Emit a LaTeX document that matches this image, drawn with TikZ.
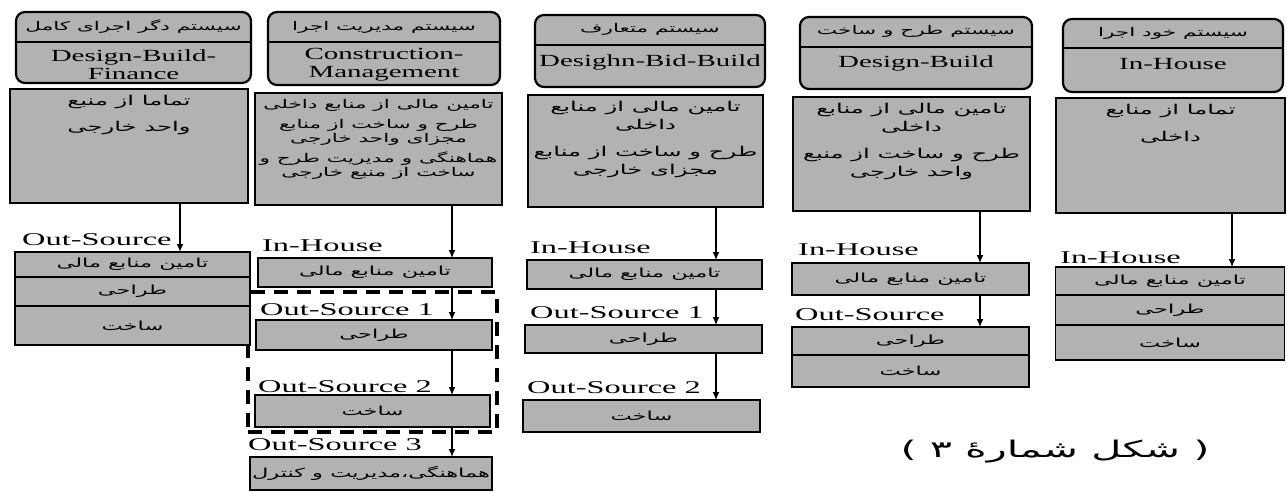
\documentclass[tikz,border=0pt]{standalone}
\usepackage{fontspec}
\setmainfont{Liberation Serif}
\newfontfamily\lblfont[FakeStretch=1.8]{Liberation Serif}
\newfontfamily\engfont[FakeStretch=1.7]{Liberation Serif}
\newfontfamily\farsi[Script=Arabic,FakeStretch=1.8]{DejaVu Sans}
\TeXXeTstate=1
\newcommand{\fa}[1]{{\farsi\beginR #1\endR}}
\usepackage{tikz}
\usetikzlibrary{positioning, arrows.meta}

\begin{document}
\begin{tikzpicture}[x=1pt, y=-1pt,
    hdr/.style={draw, line width=2.2pt, rounded corners=9pt, fill=black!30, inner sep=0pt, outer sep=0pt},
    hdrfa/.style={inner sep=0pt, font=\fontsize{12}{13}\selectfont},
    descbox/.style={draw, line width=1.8pt, fill=black!30, inner sep=0pt, outer sep=0pt},
    cell/.style={draw, line width=1.6pt, fill=black!30, inner sep=0pt, outer sep=0pt, font=\fontsize{12.5}{13}\selectfont},
    desctext/.style={inner sep=0pt, align=center, font=\fontsize{13.5}{14}\selectfont},
    lbl/.style={anchor=west, inner sep=0pt, font=\lblfont\fontsize{18}{20}\selectfont},
    eng/.style={inner sep=0pt, align=center, font=\engfont\fontsize{17}{18}\selectfont},
    arr/.style={-{Latex[length=8pt,width=7pt]}, line width=1.3pt},
    grp/.style={draw, dash pattern=on 14pt off 9pt, line width=3.5pt, inner sep=0pt, outer sep=0pt}]

            \useasboundingbox (0,0) rectangle (1287,491);

            % headers
            \node[hdr, minimum width=235pt, minimum height=71pt] (hdr1) at (133.5,47.5) {};
            \draw[line width=1.6pt] (hdr1.west |- 0,42) -- (hdr1.east |- 0,42);
            \node[hdrfa] (hdr1fa) at (133.5,27) {\fa{سیستم دگر اجرای کامل}};
            \node[eng] (hdr1en) at (133.5,65) {Design-Build-\\Finance};

            \node[hdr, minimum width=232pt, minimum height=73pt] (hdr2) at (384,48.5) {};
            \draw[line width=1.6pt] (hdr2.west |- 0,42) -- (hdr2.east |- 0,42);
            \node[hdrfa] (hdr2fa) at (384,27) {\fa{سیستم مدیریت اجرا}};
            \node[eng] (hdr2en) at (384,65) {Construction-\\Management};

            \node[hdr, minimum width=230pt, minimum height=72pt] (hdr3) at (650,51) {};
            \draw[line width=1.2pt] (hdr3.west |- 0,45) -- (hdr3.east |- 0,45);
            \node[hdrfa] (hdr3fa) at (650,29) {\fa{سیستم متعارف}};
            \node[eng] (hdr3en) at (650,62) {Desighn-Bid-Build};

            \node[hdr, minimum width=232pt, minimum height=72pt] (hdr4) at (916,53) {};
            \draw[line width=1.2pt] (hdr4.west |- 0,47) -- (hdr4.east |- 0,47);
            \node[hdrfa] (hdr4fa) at (916,31) {\fa{سیستم طرح و ساخت}};
            \node[eng] (hdr4en) at (916,63) {Design-Build};

            \node[hdr, minimum width=220pt, minimum height=73pt] (hdr5) at (1173,55.5) {};
            \draw[line width=1.2pt] (hdr5.west |- 0,48) -- (hdr5.east |- 0,48);
            \node[hdrfa] (hdr5fa) at (1173,33) {\fa{سیستم خود اجرا}};
            \node[eng] (hdr5en) at (1173,64) {In-House};

            % descriptions
            \node[descbox, minimum width=238pt, minimum height=114pt] (desc1) at (129,146) {};
            \node[desctext, below=6pt of desc1.north] (desc1txt) {\fa{تماما از منبع}\\[12pt]\fa{واحد خارجی}};

            \node[descbox, minimum width=247pt, minimum height=112pt] (desc2) at (378.5,149) {};
            \node[desctext, font=\fontsize{12}{14}\selectfont, below=6pt of desc2.north] (desc2txt) {\fa{تامین مالی از منابع داخلی}\\[6pt]\fa{طرح و ساخت از منابع}\\\fa{مجزای واحد خارجی}\\[6pt]\fa{هماهنگی و مدیریت طرح و}\\\fa{ساخت از منبع خارجی}};

            \node[descbox, minimum width=235pt, minimum height=112pt] (desc3) at (645.5,151) {};
            \node[desctext, below=6pt of desc3.north] (desc3txt) {\fa{تامین مالی از منابع}\\[4pt]\fa{داخلی}\\[13pt]\fa{طرح و ساخت از منابع}\\[4pt]\fa{مجزای خارجی}};

            \node[descbox, minimum width=237pt, minimum height=114pt] (desc4) at (911.5,154) {};
            \node[desctext, below=6pt of desc4.north] (desc4txt) {\fa{تامین مالی از منابع}\\[4pt]\fa{داخلی}\\[13pt]\fa{طرح و ساخت از منبع}\\[4pt]\fa{واحد خارجی}};

            \node[descbox, minimum width=229pt, minimum height=115pt] (desc5) at (1170.5,155.5) {};
            \node[desctext, below=6pt of desc5.north] (desc5txt) {\fa{تماما از منابع}\\[13pt]\fa{داخلی}};

            % dashed group of column 2
            \node[grp, minimum width=249pt, minimum height=140pt] (grp2) at (372.5,362) {};

            % column 1
            \node[cell, minimum width=235pt, minimum height=25pt] (c1a) at (132.5,264.5) {\fa{تامین منابع مالی}};
            \node[cell, minimum width=235pt, minimum height=29pt, below=0pt of c1a] (c1b) {\fa{طراحی}};
            \node[cell, minimum width=235pt, minimum height=39pt, below=0pt of c1b] (c1c) {\fa{ساخت}};
            \node[lbl] (l1) at (22,240) {Out-Source};

            % column 2
            \node[cell, minimum width=234pt, minimum height=29pt] (c2a) at (375,272.5) {\fa{تامین منابع مالی}};
            \node[cell, minimum width=236pt, minimum height=30pt] (c2b) at (374,335) {\fa{طراحی}};
            \node[cell, minimum width=235pt, minimum height=32pt] (c2c) at (372.5,411) {\fa{ساخت}};
            \node[cell, minimum width=242pt, minimum height=33pt] (c2d) at (371,473.5) {\fa{هماهنگی،مدیریت و کنترل}};
            \node[lbl] (l2a) at (262,246) {In-House};
            \node[lbl] (l2b) at (260,310) {Out-Source 1};
            \node[lbl] (l2c) at (258,387) {Out-Source 2};
            \node[lbl] (l2d) at (248,445) {Out-Source 3};

            % column 3
            \node[cell, minimum width=235pt, minimum height=29pt] (c3a) at (644.5,274.5) {\fa{تامین منابع مالی}};
            \node[cell, minimum width=237pt, minimum height=28pt] (c3b) at (643.5,339) {\fa{طراحی}};
            \node[cell, minimum width=237pt, minimum height=32pt] (c3c) at (641.5,416) {\fa{ساخت}};
            \node[lbl] (l3a) at (530,248) {In-House};
            \node[lbl] (l3b) at (530,313) {Out-Source 1};
            \node[lbl] (l3c) at (527,388) {Out-Source 2};

            % column 4
            \node[cell, minimum width=237pt, minimum height=32pt] (c4a) at (910.5,279) {\fa{تامین منابع مالی}};
            \node[cell, minimum width=237pt, minimum height=28pt] (c4b) at (910.5,341) {\fa{طراحی}};
            \node[cell, minimum width=237pt, minimum height=32pt, below=0pt of c4b] (c4c) {\fa{ساخت}};
            \node[lbl] (l4a) at (798,250) {In-House};
            \node[lbl] (l4b) at (795,315) {Out-Source};

            % column 5
            \node[cell, minimum width=229pt, minimum height=28pt] (c5a) at (1170,281) {\fa{تامین منابع مالی}};
            \node[cell, minimum width=229pt, minimum height=30pt, below=0pt of c5a] (c5b) {\fa{طراحی}};
            \node[cell, minimum width=229pt, minimum height=35pt, below=0pt of c5b] (c5c) {\fa{ساخت}};
            \node[lbl] (l5a) at (1060,258) {In-House};

            % arrows
            \coordinate (a1) at (180,0);
            \coordinate (a2) at (452,0);
            \coordinate (a3) at (716,0);
            \coordinate (a4) at (980,0);
            \coordinate (a5) at (1232,0);
            \draw[arr, line width=1.8pt] (desc1.south -| a1) -- (c1a.north -| a1);
            \draw[arr] (desc2.south -| a2) -- (c2a.north -| a2);
            \draw[arr] (c2a.south -| a2) -- (c2b.north -| a2);
            \draw[arr] (c2b.south -| a2) -- (c2c.north -| a2);
            \draw[arr] (c2c.south -| a2) -- (c2d.north -| a2);
            \draw[arr] (desc3.south -| a3) -- (c3a.north -| a3);
            \draw[arr] (c3a.south -| a3) -- (c3b.north -| a3);
            \draw[arr] (c3b.south -| a3) -- (c3c.north -| a3);
            \draw[arr] (desc4.south -| a4) -- (c4a.north -| a4);
            \draw[arr] (c4a.south -| a4) -- (c4b.north -| a4);
            \draw[arr] (desc5.south -| a5) -- (c5a.north -| a5);

            \node[font=\fontsize{23}{25}\selectfont, inner sep=0pt] (cap) at (1055,452) {\fa{( شکل شمارهٔ ۳ )}};
        \end{tikzpicture}
\end{document}
